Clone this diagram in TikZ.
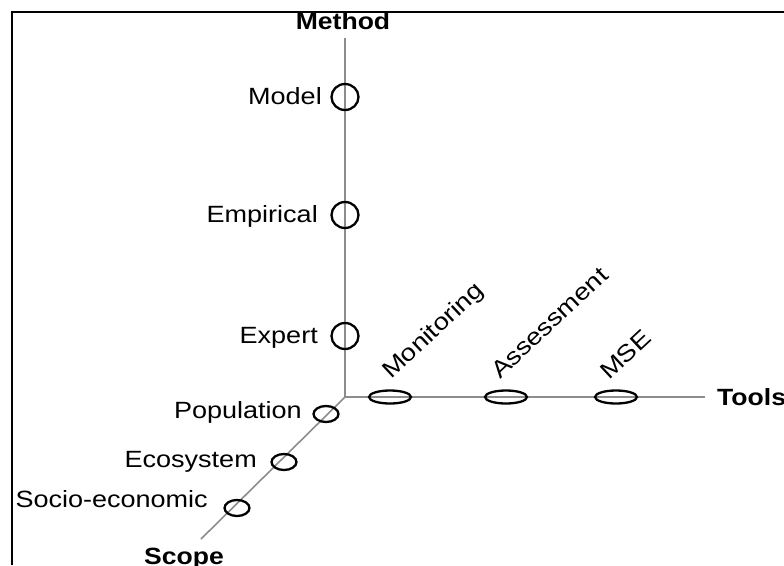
\documentclass[tikz,border=0pt]{standalone}
\usepackage{fontspec}
\setmainfont{Liberation Sans}
\usetikzlibrary{shapes.geometric}
\begin{document}
\begin{tikzpicture}[x=1pt,y=-1pt,
  axis/.style={draw=black!45,line width=1.6pt},
  frameline/.style={draw=black,line width=2.2pt},
  ring/.style={draw=black,line width=2.3pt,ellipse,inner sep=0pt,minimum width=27pt,minimum height=26pt},
  flatring/.style={draw=black,line width=2.3pt,ellipse,inner sep=0pt,minimum width=42pt,minimum height=13pt},
  smallring/.style={draw=black,line width=2.3pt,ellipse,inner sep=0pt,minimum width=25pt,minimum height=16pt},
  lbl/.style={font=\fontsize{23.5}{26}\selectfont,inner sep=0pt,xscale=1.15,anchor=base east},
  axislbl/.style={font=\fontsize{23.5}{26}\selectfont\bfseries,inner sep=0pt,xscale=1.13},
  tiltlbl/.style={font=\fontsize{23.5}{26}\selectfont,inner sep=0pt,anchor=base west,rotate=43,xscale=1.17}]
\useasboundingbox (0,0) rectangle (784,565);

% axes
\coordinate (O) at (345,397);
\coordinate (Mend) at (345,38);
\coordinate (Tend) at (705,397);
\coordinate (Send) at (201,539);
\draw[axis] (O) -- (Mend);
\draw[axis] (O) -- (Tend);
\draw[axis] (O) -- (Send);

% axis titles
\node[axislbl,anchor=base] (method) at (343,29) {Method};
\node[axislbl,anchor=base west] (tools) at (717,405) {Tools};
\node[axislbl,anchor=base] (scope) at (184,564) {Scope};

% open frame along the top and left edges
\coordinate (fa) at (12,565);
\coordinate (fb) at (12,12);
\coordinate (fc) at (784,12);
\draw[frameline] (fa) -- (fb) -- (fc);

% method axis
\node[ring] (model) at (345,97) {};
\node[ring] (empirical) at (345,215) {};
\node[ring] (expert) at (345,336) {};
\node[lbl] (modelL) at (322,104) {Model};
\node[lbl] (empiricalL) at (318,222) {Empirical};
\node[lbl] (expertL) at (318,343) {Expert};

% tools axis
\node[flatring] (monitoring) at (390,397) {};
\node[flatring] (assessment) at (506,397) {};
\node[flatring] (mse) at (616,397) {};
\node[tiltlbl] (monitoringL) at (391,380) {Monitoring};
\node[tiltlbl] (assessmentL) at (500,380) {Assessment};
\node[tiltlbl] (mseL) at (609,381) {MSE};

% scope axis
\node[smallring] (population) at (326,414) {};
\node[smallring] (ecosystem) at (284,462) {};
\node[smallring] (socio) at (237,508) {};
\node[lbl] (populationL) at (302,418) {Population};
\node[lbl] (ecosystemL) at (257,467) {Ecosystem};
\node[lbl] (socioL) at (208,507) {Socio-economic};
\end{tikzpicture}
\end{document}
